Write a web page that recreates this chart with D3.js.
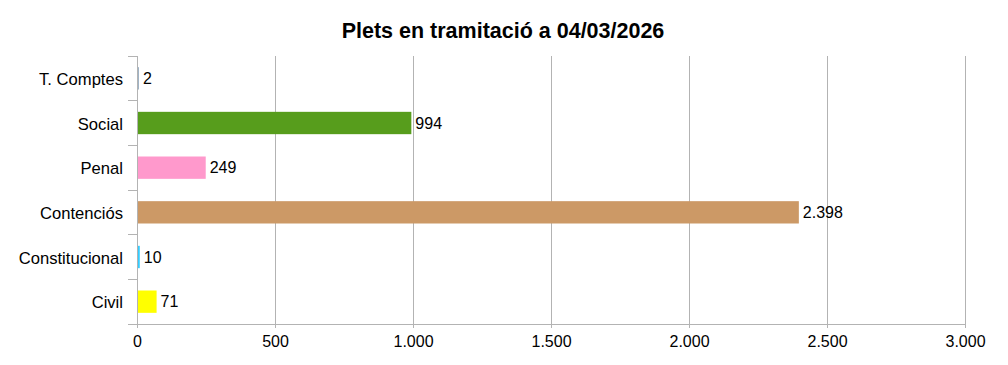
<!DOCTYPE html>
<html><head><meta charset="utf-8">
<script src="https://cdn.jsdelivr.net/npm/d3@7"></script>
<style>body{margin:0;background:#fff}svg{display:block}text{font-family:"Liberation Sans",Arial,sans-serif}</style>
</head><body><svg id="c" width="1008" height="365"></svg>
<script>
const title = "Plets en tramitació a 04/03/2026";
const categories = ["T. Comptes","Social","Penal","Contenciós","Constitucional","Civil"];
const values = [2, 994, 249, 2398, 10, 71];
const colors = ["#9fb3c6","#579d1c","#ff99cc","#cc9966","#33ccff","#ffff00"];
const xTicks = [0,500,1000,1500,2000,2500,3000];

const svg = d3.select("#c");
const L=137, R=965, T=56, B=324;
const x = d3.scaleLinear().domain([0,3000]).range([L,R]);
const y = d3.scaleBand().domain(categories).range([T,B]).paddingInner(0.5).paddingOuter(0.25);
const fmt = v => d3.format(",")(v).replace(/,/g,".");
const FS = 16;

svg.append("text").attr("x",503).attr("y",38).attr("text-anchor","middle")
  .attr("font-size",21.5).attr("font-weight","bold").text(title);

// gridlines
svg.append("g").selectAll("line").data(xTicks.slice(1)).join("line")
  .attr("x1",d=>x(d)).attr("x2",d=>x(d)).attr("y1",T).attr("y2",B+4)
  .attr("stroke","#b3b3b3").attr("stroke-width",1).attr("shape-rendering","crispEdges");

// bars
svg.append("g").selectAll("rect").data(values).join("rect")
  .attr("x",x(0)).attr("y",(d,i)=>y(categories[i]))
  .attr("width",d=>Math.max(2,x(d)-x(0))).attr("height",y.bandwidth())
  .attr("fill",(d,i)=>colors[i]);

// value labels
svg.append("g").selectAll("text").data(values).join("text")
  .attr("x",d=>Math.max(x(d),x(0)+2)+4).attr("y",(d,i)=>y(categories[i])+y.bandwidth()/2)
  .attr("dy","0.35em").attr("font-size",FS).text(d=>fmt(d));

// x axis
const xa = svg.append("g").attr("transform",`translate(0,${B})`)
  .call(d3.axisBottom(x).tickValues(xTicks).tickFormat(fmt).tickSize(4).tickPadding(8));
xa.selectAll("path,line").attr("stroke","#b3b3b3");
xa.select(".domain").attr("d",`M${L-9},0.5H${R}`);
xa.selectAll("text").attr("font-size",FS).attr("fill","#000").attr("font-family","Liberation Sans, Arial, sans-serif");

// y axis
const ya = svg.append("g").attr("transform",`translate(${L},0)`)
  .call(d3.axisLeft(y).tickSize(0).tickPadding(14));
ya.select(".domain").attr("stroke","#b3b3b3").attr("d",`M0.5,${T}V${B+4}`);
ya.selectAll("text").attr("font-size",16.6).attr("dy","0.4em").attr("fill","#000").attr("font-family","Liberation Sans, Arial, sans-serif");
// boundary ticks
svg.append("g").selectAll("line").data(d3.range(categories.length+1)).join("line")
  .attr("x1",L-9).attr("x2",L).attr("y1",i=>T+i*(B-T)/categories.length).attr("y2",i=>T+i*(B-T)/categories.length)
  .attr("stroke","#b3b3b3").attr("shape-rendering","crispEdges");
</script></body></html>
